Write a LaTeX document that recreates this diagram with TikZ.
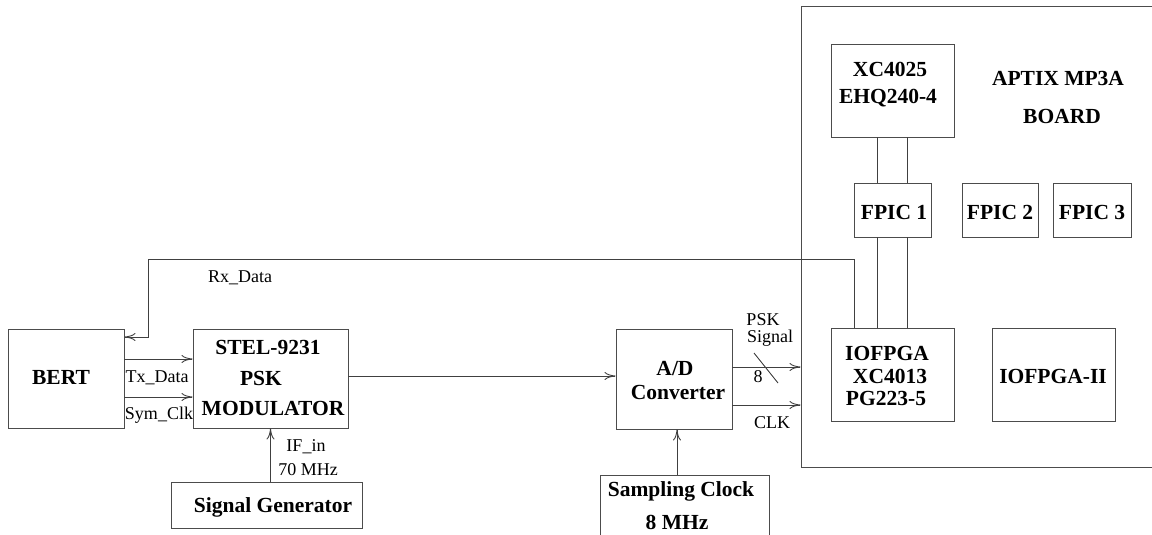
\documentclass[tikz,border=0pt]{standalone}
\usepackage{fontspec}
\setmainfont{Liberation Serif}
\usetikzlibrary{arrows.meta}
\begin{document}
\begin{tikzpicture}[x=1pt,y=-1pt,
  box/.style={draw=black!70,line width=0.9pt,inner sep=0pt,fill=none},
  bl/.style={font=\fontsize{21.5}{25}\selectfont\bfseries,inner sep=0pt,anchor=center},
  pl/.style={font=\fontsize{18}{21}\selectfont,inner sep=0pt,anchor=center},
  ln/.style={draw=black!75,line width=0.9pt},
  arr/.style={ln,-{To[length=11pt,width=8pt]}}]
\path[use as bounding box,clip] (0,0) rectangle (1152,535);
% boxes
\node[box,minimum width=116pt,minimum height=99pt] (bert) at (66,378.5) {};
\node[box,minimum width=155pt,minimum height=99pt] (stel) at (270.5,378.5) {};
\node[box,minimum width=191pt,minimum height=46pt] (sig) at (266.5,505) {};
\node[box,minimum width=116pt,minimum height=100pt] (adc) at (674,379) {};
\node[box,minimum width=169pt,minimum height=120pt] (samp) at (684.5,535) {};
\node[box,minimum width=400pt,minimum height=461pt] (board) at (1001,236.5) {};
\node[box,minimum width=123pt,minimum height=93pt] (xc25) at (892.5,90.5) {};
\node[box,minimum width=77pt,minimum height=54pt] (fpic1) at (892.5,210) {};
\node[box,minimum width=76pt,minimum height=54pt] (fpic2) at (1000,210) {};
\node[box,minimum width=78pt,minimum height=54pt] (fpic3) at (1092,210) {};
\node[box,minimum width=123pt,minimum height=93pt] (iofpga) at (892.5,374.5) {};
\node[box,minimum width=123pt,minimum height=93pt] (iofpga2) at (1053.5,374.5) {};
% texts
\node[bl] (tbert) at (61,377) {BERT};
\node[bl] (tstel1) at (268,347) {STEL-9231};
\node[bl] (tstel2) at (261,378) {PSK};
\node[bl] (tstel3) at (273,408) {MODULATOR};
\node[bl] (tsig) at (273,507) {Signal Generator};
\node[bl] (tadc1) at (675,369) {A/D};
\node[bl] (tadc2) at (678,392) {Converter};
\node[bl] (tsamp1) at (681,491) {Sampling Clock};
\node[bl] (tsamp2) at (677,522) {8 MHz};
\node[bl] (txc1) at (890,69) {XC4025};
\node[bl] (txc2) at (888,98) {EHQ240-4};
\node[bl] (tapt1) at (1058,78) {APTIX MP3A};
\node[bl] (tapt2) at (1062,116) {BOARD};
\node[bl] (tf1) at (894,212) {FPIC 1};
\node[bl] (tf2) at (1000,212) {FPIC 2};
\node[bl] (tf3) at (1092,212) {FPIC 3};
\node[bl] (tio1) at (887,353) {IOFPGA};
\node[bl] (tio2) at (890,376) {XC4013};
\node[bl] (tio3) at (886,398) {PG223-5};
\node[bl] (tio4) at (1053,376) {IOFPGA-II};
\node[pl] (lrx) at (240,278) {Rx\_Data};
\node[pl] (ltx) at (157,378) {Tx\_Data};
\node[pl] (lsym) at (159,415) {Sym\_Clk};
\node[pl] (lif1) at (306,447) {IF\_in};
\node[pl] (lif2) at (308,470) {70 MHz};
\node[pl] (lpsk1) at (763,320) {PSK};
\node[pl] (lpsk2) at (770,338.5) {Signal};
\node[pl] (l8) at (758,377) {8};
\node[pl] (lclk) at (772,423) {CLK};
% connectors
\coordinate (rx1) at (148,259);
\coordinate (rx2) at (148,337);
\draw[arr] ([xshift=-38.5pt]iofpga.north) |- (rx1) -- (rx2) -- (bert.east |- rx2);
\draw[arr] ([yshift=19.5pt]bert.east) -- ([yshift=19.5pt]stel.west);
\draw[arr] ([yshift=-18.5pt]bert.east) -- ([yshift=-18.5pt]stel.west);
\draw[arr] (sig.north -| stel.south) -- (stel.south);
\draw[arr] ([yshift=2.5pt]stel.east) -- ([yshift=3pt]adc.west);
\draw[arr] ([yshift=12pt]adc.east) -- ([yshift=12pt]adc.east -| board.west);
\draw[arr] ([yshift=-26pt]adc.east) -- ([yshift=-26pt]adc.east -| board.west);
\coordinate (s1) at (754,353);
\coordinate (s2) at (778,383);
\draw[ln] (s1) -- (s2);
\draw[arr] (samp.north -| 677,0) -- (adc.south -| 677,0);
\draw[ln] ([xshift=-15.5pt]xc25.south) -- ([xshift=-15.5pt]fpic1.north);
\draw[ln] ([xshift=14.5pt]xc25.south) -- ([xshift=14.5pt]fpic1.north);
\draw[ln] ([xshift=-15.5pt]fpic1.south) -- ([xshift=-15.5pt]iofpga.north);
\draw[ln] ([xshift=14.5pt]fpic1.south) -- ([xshift=14.5pt]iofpga.north);
\end{tikzpicture}
\end{document}
